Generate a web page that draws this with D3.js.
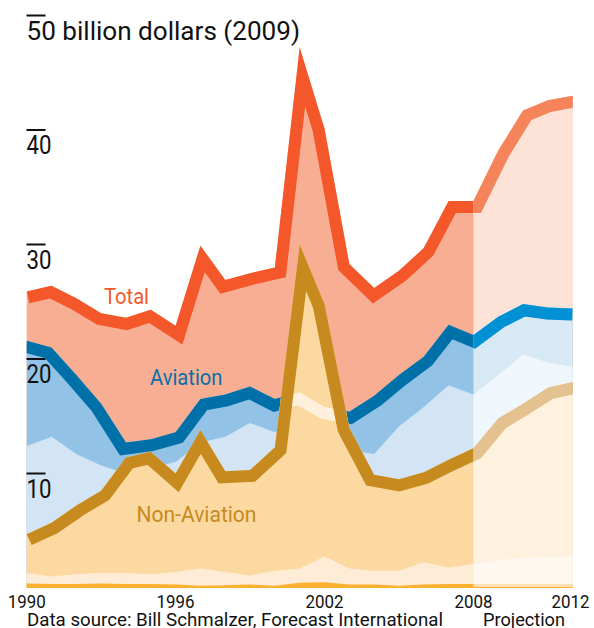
<!DOCTYPE html>
<html>
<head>
<meta charset="utf-8">
<script src="https://cdn.jsdelivr.net/npm/d3@7"></script>
<style>
  html, body { margin: 0; padding: 0; background: #fff; }
  svg { display: block; font-family: Roboto, "Noto Sans", sans-serif; }
</style>
</head>
<body>
<svg id="chart" width="594" height="628"></svg>
<script>
// ---- data (billion dollars, 2009) ----
const years = [1990,1991,1992,1993,1994,1995,1996,1997,1998,1999,2000,2001,2002,2003,2004,2005,2006,2007,2008,2009,2010,2011,2012];
const total = [25.9,26.4,25.3,24.0,23.6,24.3,22.9,29.9,26.9,27.5,28.0,47.2,40.1,28.3,26.2,27.7,29.7,33.8,33.8,38.2,41.7,42.6,43.0];
const aviation = [21.6,21.0,18.6,16.1,12.7,13.0,13.6,16.5,16.9,17.6,16.5,17.1,15.8,15.4,16.8,18.6,20.2,23.0,22.1,23.7,24.8,24.5,24.4];
const aviationSub = [12.4,13.2,11.7,10.7,10.0,10.5,11.0,12.7,13.2,14.4,13.6,15.0,14.0,12.0,11.7,14.1,15.8,17.7,16.9,18.6,20.4,19.7,19.3];
const nonAviation = [4.7,5.7,7.2,8.5,11.4,11.9,10.0,13.8,10.2,10.3,12.3,30.0,24.8,14.0,9.9,9.5,10.1,11.2,12.2,14.8,16.1,17.5,18.0];
const nonAviationSub = [1.3,1.0,1.2,1.3,1.3,1.2,1.4,1.7,1.4,1.1,1.5,1.7,2.75,1.7,1.5,1.5,2.25,1.8,2.1,2.45,2.6,2.7,2.7];
const nonAviationBase = [0.4,0.35,0.35,0.4,0.35,0.35,0.3,0.2,0.25,0.3,0.2,0.45,0.5,0.3,0.3,0.2,0.3,0.35,0.35,0.35,0.35,0.35,0.35];
const yTicks = [10,20,30,40];
const xTicks = [1990,1996,2002,2008,2012];
const projectionStart = 2008;
const titleText = "50 billion dollars (2009)";
const sourceText = "Data source: Bill Schmalzer, Forecast International";
const projectionText = "Projection";

// ---- layout ----
const svg = d3.select("#chart");
const x = d3.scaleLinear().domain([1990, 2012]).range([26.7, 572.7]);
const y = d3.scaleLinear().domain([0, 50]).range([588, 15.5]);
const FONT = "Roboto, 'Noto Sans', sans-serif";

const series = arr => years.map((yr, i) => ({ yr, v: arr[i] }));
const areaGen = d3.area().x(d => x(d.yr)).y0(y(0)).y1(d => y(d.v));
const lineGen = d3.line().x(d => x(d.yr)).y(d => y(d.v));

const defs = svg.append("defs");
function clip(id, d) {
  defs.append("clipPath").attr("id", id).append("path").attr("d", d);
}
clip("clipTotal", areaGen(series(total)));
clip("clipAv", areaGen(series(aviation)));
clip("clipNA", areaGen(series(nonAviation)));
defs.append("clipPath").attr("id", "clipProj").append("rect")
  .attr("x", x(projectionStart)).attr("y", 0)
  .attr("width", x(2012) - x(projectionStart) + 2).attr("height", y(0));

const LW = 24;
function band(g, arr, color, clipId) {
  return g.append("path").attr("d", lineGen(series(arr)))
    .attr("fill", "none").attr("stroke", color).attr("stroke-width", LW)
    .attr("stroke-linejoin", "miter").attr("stroke-miterlimit", 10)
    .attr("clip-path", `url(#${clipId})`);
}

const g = svg.append("g");
// Total
g.append("path").attr("d", areaGen(series(total))).attr("fill", "#f8ae93");
band(g, total, "#f4572a", "clipTotal");
// Aviation
g.append("path").attr("d", areaGen(series(aviation))).attr("fill", "#92c3e6");
g.append("path").attr("d", areaGen(series(aviationSub))).attr("fill", "#d3e5f5");
band(g, aviation, "#0070a8", "clipAv");
// Non-Aviation
g.append("path").attr("d", areaGen(series(nonAviation))).attr("fill", "#fdd9a2");
g.append("path").attr("d", areaGen(series(nonAviationSub))).attr("fill", "#feecd7");
g.append("path").attr("d", areaGen(series(nonAviationBase))).attr("fill", "#fbb030");
// hidden aviation band showing faintly through non-aviation fill
band(g.append("g").attr("clip-path", "url(#clipNA)"), aviation, "#fef0dc", "clipAv");
band(g, nonAviation, "#c68a1e", "clipNA");

// Projection overlay
g.append("rect").attr("x", x(projectionStart)).attr("y", 0)
  .attr("width", x(2012) - x(projectionStart)).attr("height", y(0) - 1)
  .attr("fill", "#fff").attr("opacity", 0.64);
const gp = g.append("g").attr("clip-path", "url(#clipProj)");
band(gp, total, "#f5845a", "clipTotal");
band(gp, aviation, "#0090d4", "clipAv");
band(gp, nonAviation, "#e3c290", "clipNA");

// ---- text ----
function txt(s, px, py, size, color, width, anchor) {
  const t = svg.append("text").attr("x", px).attr("y", py)
    .attr("font-family", FONT).attr("font-size", size).attr("fill", color)
    .attr("text-anchor", anchor || "start").text(s);
  if (width) t.attr("textLength", width).attr("lengthAdjust", "spacingAndGlyphs");
  return t;
}

// y ticks with overbars
const tickX = 26.5;
yTicks.forEach(v => {
  svg.append("rect").attr("x", tickX).attr("y", y(v) - 1).attr("width", 19).attr("height", 2).attr("fill", "#111");
  txt(String(v), tickX, y(v) + 24, 26, "#111", 25);
});
svg.append("rect").attr("x", tickX).attr("y", y(50) - 1).attr("width", 19).attr("height", 2).attr("fill", "#111");
txt(titleText, tickX, y(50) + 24, 26, "#111", 273.5);

// x ticks
xTicks.forEach(yr => {
  const cx = yr === 2012 ? Math.min(x(yr), 570.5) : x(yr);
  txt(String(yr), cx, 608, 19, "#111", 38, "middle");
});
txt(sourceText, 27, 626, 19, "#111", 416);
txt(projectionText, 483, 626, 19, "#111", 82);

// series labels
txt("Total", 104, 303.5, 22, "#f05a28", 45);
txt("Aviation", 150, 385, 22, "#0a6fa8", 72.5);
txt("Non-Aviation", 136.5, 521.5, 22, "#c68a1e", 120);
</script>
</body>
</html>
